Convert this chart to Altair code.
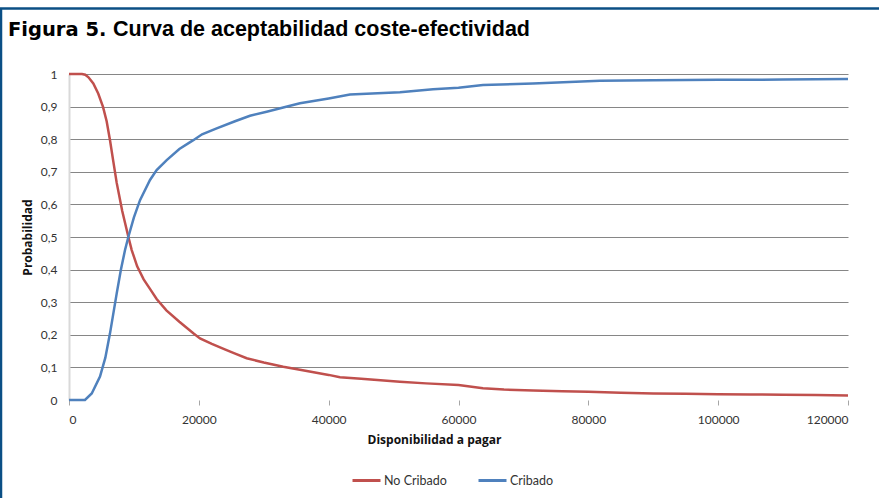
import altair as alt
import pandas as pd

# ---- data ----
series_names = ["No Cribado", "Cribado"]

x_no = [0, 2000, 2500, 3000, 3745, 4500, 5240, 5800, 6316, 6800, 7350, 8200, 9140, 9660,
        10500, 11500, 12500, 13500, 15000, 17000, 19150, 20180, 22000, 24000, 25500, 27370,
        30000, 33000, 36000, 40000, 41740, 45000, 50970, 55000, 60000, 63770, 67000, 71500,
        76000, 80000, 85000, 90000, 95000, 100000, 105000, 110000, 115000, 120000]
p_no = [1, 1, 0.998, 0.99, 0.971, 0.94, 0.899, 0.855, 0.797, 0.735, 0.666, 0.58, 0.501, 0.46,
        0.41, 0.37, 0.34, 0.31, 0.275, 0.24, 0.2045, 0.189, 0.172, 0.155, 0.143, 0.128,
        0.115, 0.102, 0.091, 0.077, 0.070, 0.065, 0.056, 0.051, 0.046, 0.036, 0.032, 0.029,
        0.027, 0.025, 0.022, 0.020, 0.019, 0.018, 0.017, 0.016, 0.015, 0.014]

x_si = [0, 2000, 2460, 3500, 4775, 5600, 6316, 7350, 8000, 8630, 9140, 10000, 10940, 12480,
        13500, 15050, 17000, 19150, 20500, 22750, 25570, 27880, 30450, 33000, 35580, 40000,
        43280, 50980, 56080, 60000, 63770, 71470, 81800, 90000, 100000, 110000, 120000]
p_si = [0, 0, 0.0, 0.02, 0.072, 0.13, 0.2045, 0.327, 0.40, 0.46, 0.5, 0.56, 0.613, 0.675,
        0.705, 0.736, 0.77, 0.797, 0.815, 0.833, 0.855, 0.872, 0.884, 0.897, 0.910, 0.925,
        0.937, 0.944, 0.953, 0.958, 0.966, 0.971, 0.979, 0.981, 0.982, 0.983, 0.985]

y_ticks = [0, 0.1, 0.2, 0.3, 0.4, 0.5, 0.6, 0.7, 0.8, 0.9, 1]
x_ticks = [0, 20000, 40000, 60000, 80000, 100000, 120000]

rows = [{"serie": series_names[0], "x": a, "p": b, "o": i} for i, (a, b) in enumerate(zip(x_no, p_no))]
rows += [{"serie": series_names[1], "x": a, "p": b, "o": i} for i, (a, b) in enumerate(zip(x_si, p_si))]
df = pd.DataFrame(rows)

FONT = "Lato"
TFONT = "Open Sans"
W, H = 779, 326
PL, PT, PR, PB = 69, 74, 31, 98

lines = alt.Chart(df).mark_line(strokeWidth=2.5, clip=False).encode(
    x=alt.X("x:Q", scale=alt.Scale(domain=[0, 120000], nice=False, zero=False),
            axis=alt.Axis(values=x_ticks, format="d", title="Disponibilidad a pagar",
                          grid=False, domain=False, ticks=True, tickSize=5,
                          tickColor="#a6a6a6", labelPadding=9, labelFont=FONT,
                          labelFontSize=12, labelColor="#333333", titleFont=TFONT,
                          titleFontSize=12, titleFontWeight="bold", titleColor="#111111",
                          titlePadding=9, titleX=365)),
    y=alt.Y("p:Q", scale=alt.Scale(domain=[0, 1], nice=False),
            axis=alt.Axis(values=y_ticks,
                          labelExpr="replace(format(datum.value, '.1~f'), '.', ',')",
                          grid=True, gridColor="#868686", gridWidth=1,
                          gridOpacity={"condition": {"test": "datum.value == 0", "value": 0}, "value": 1},
                          domain=True, domainColor="#d9d9d9", domainWidth=2,
                          ticks=False, labelPadding=12, labelFont=FONT, labelFontSize=12,
                          labelColor="#333333", title="Probabilidad", titleFont=TFONT,
                          titleFontSize=12, titleFontWeight="bold", titleColor="#111111",
                          titlePadding=6)),
    color=alt.Color("serie:N",
                    scale=alt.Scale(domain=series_names, range=["#C0504D", "#4F81BD"]),
                    legend=alt.Legend(title=None, orient="none", direction="horizontal",
                                      legendX=282, legendY=391, symbolType="stroke",
                                      symbolSize=784, symbolStrokeWidth=3,
                                      labelFont=FONT, labelFontSize=12.5, labelColor="#333333",
                                      columnPadding=25, labelOffset=2, padding=0)),
    order="o:Q",
)

border_df = pd.DataFrame({"k": [0]})
top_border = alt.Chart(border_df).mark_rule(color="#0b4f85", strokeWidth=2.5).encode(
    x=alt.value(-PL), x2=alt.value(W + PR), y=alt.value(8.5 - PT))
left_border = alt.Chart(border_df).mark_rule(color="#0b4f85", strokeWidth=2.5).encode(
    x=alt.value(1 - PL), y=alt.value(8 - PT), y2=alt.value(H + PB))

title1 = alt.Chart(border_df).mark_text(text="Figura 5.", font="DejaVu Sans", fontWeight="bold",
                                        fontSize=19.5, align="left", baseline="alphabetic",
                                        color="#000000").encode(
    x=alt.value(8 - PL), y=alt.value(36 - PT))
title2 = alt.Chart(border_df).mark_text(text="Curva de aceptabilidad coste-efectividad",
                                        font="Liberation Sans", fontWeight="bold",
                                        fontSize=21.5, align="left", baseline="alphabetic",
                                        color="#000000").encode(
    x=alt.value(113 - PL), y=alt.value(36 - PT))

chart = alt.layer(lines, top_border, left_border, title1, title2).properties(
    width=W, height=H,
    autosize=alt.AutoSizeParams(type="none"),
    padding={"left": PL, "top": PT, "right": PR, "bottom": PB},
    background="white",
).configure_view(stroke=None)

chart.save("out.html", embed_options={"renderer": "svg", "actions": False})
